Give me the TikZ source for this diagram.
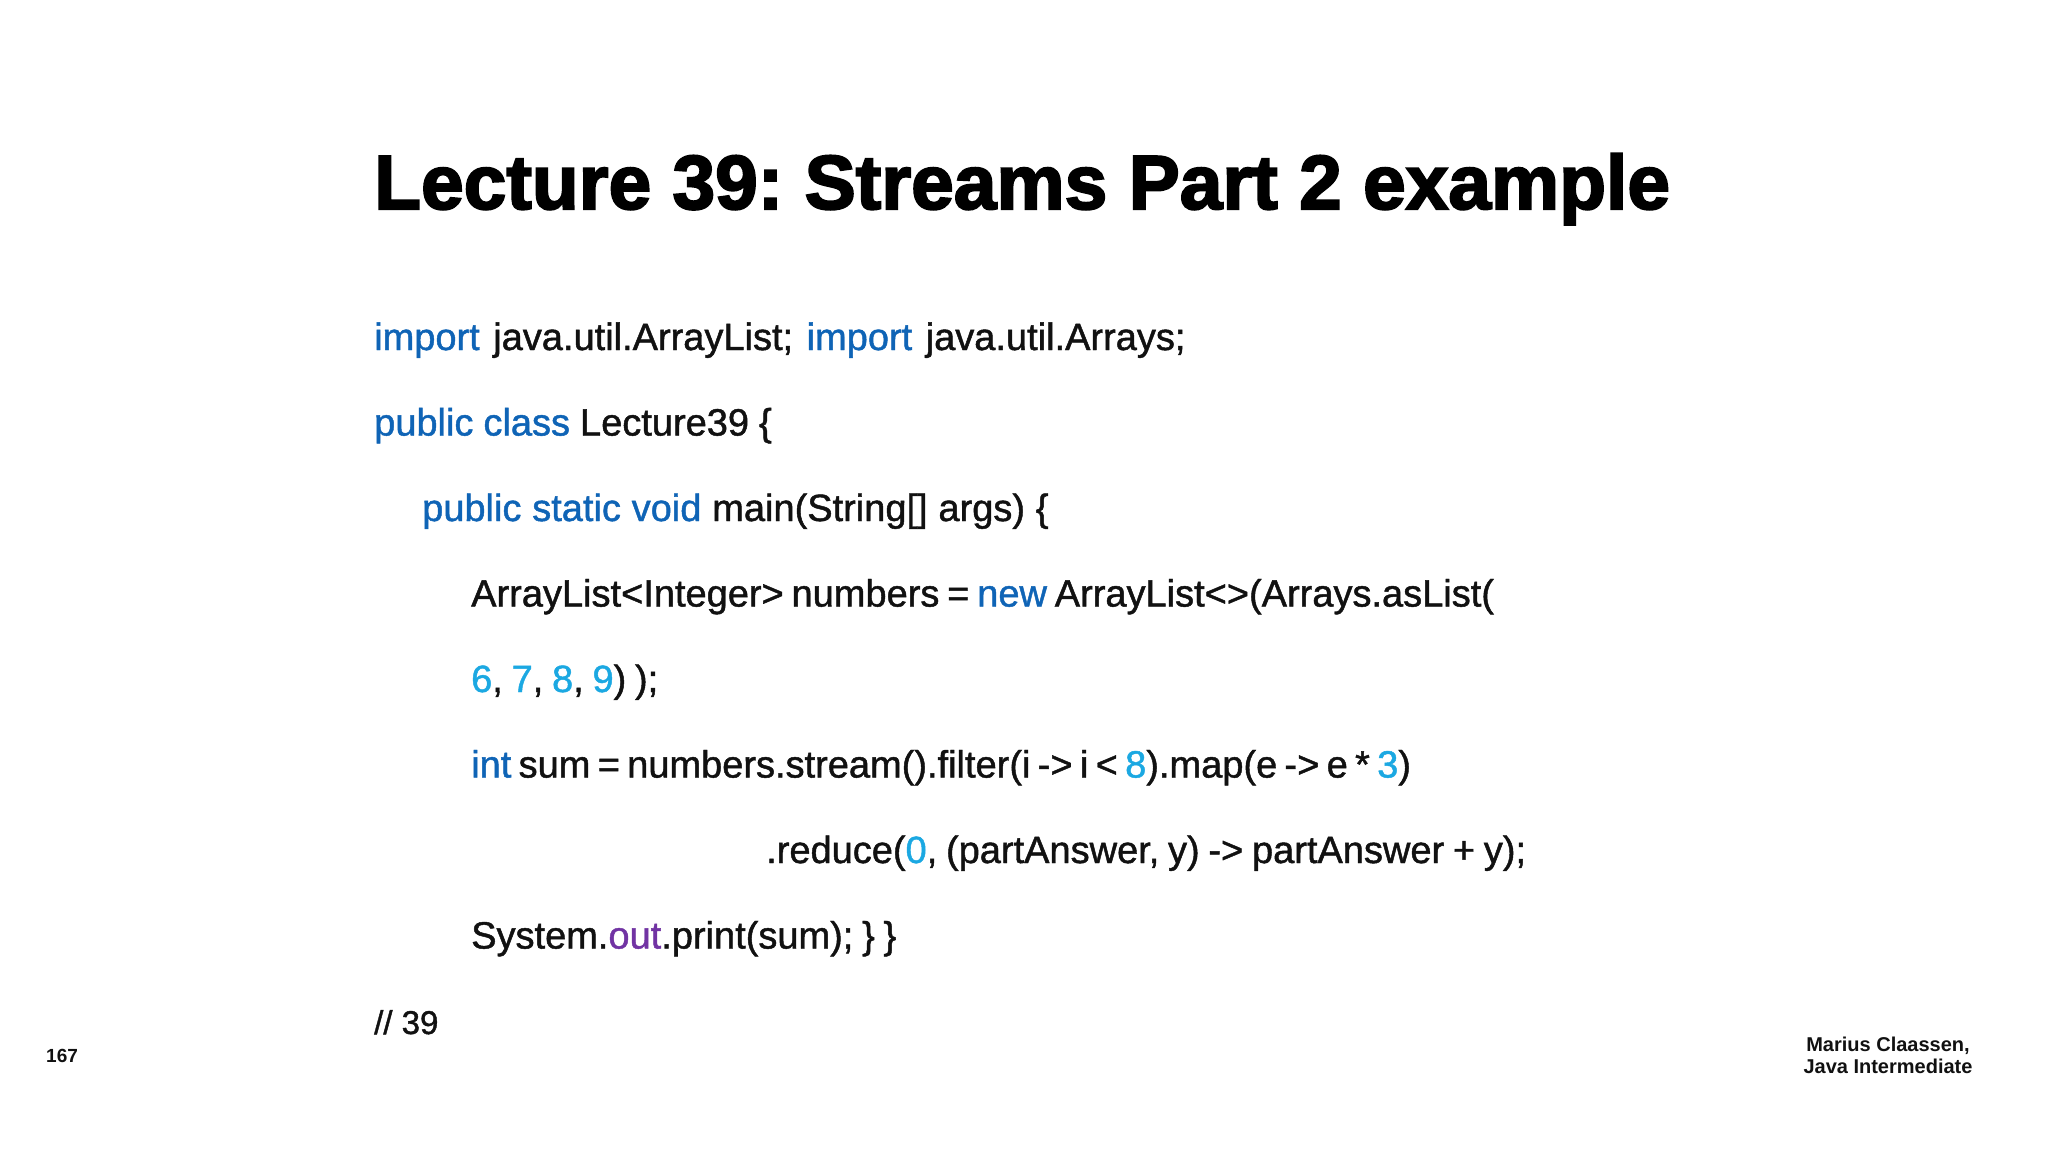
\documentclass[tikz,border=0pt]{standalone}
\usepackage{fontspec}
\setmainfont{Liberation Sans}
\newfontfamily\codefont[FakeBold=1.2]{Liberation Sans}
\newfontfamily\titlefont[FakeBold=2.6]{Liberation Sans Bold}
\newfontfamily\footfont{Liberation Sans Bold}
\definecolor{kwblue}{HTML}{0F64B6}
\definecolor{numcyan}{HTML}{1BA8E2}
\definecolor{outpurple}{HTML}{7133A3}
\definecolor{txt}{HTML}{111111}
\newcommand\kw[1]{\textcolor{kwblue}{#1}}
\newcommand\num[1]{\textcolor{numcyan}{#1}}
\newcommand\fld[1]{\textcolor{outpurple}{#1}}
\newcommand\wsp[1]{\spaceskip=#1 plus 2pt minus 1pt\relax}
\newcommand\codesize{\codefont\fontsize{38}{38}\selectfont\frenchspacing\spaceskip=0.23em plus 0.1em minus 0.05em\relax}
\tikzset{
  codeline/.style={anchor=base west, inner sep=0pt, text=txt, font=\codesize},
  titletext/.style={anchor=base west, inner sep=0pt, text=black, font=\titlefont\fontsize{76.7}{76.7}\selectfont\frenchspacing},
  foot/.style={inner sep=0pt, text=txt, font=\footfont\fontsize{20}{22}\selectfont}
}
\begin{document}
\begin{tikzpicture}[x=1pt,y=-1pt]
\useasboundingbox[fill=white] (0,0) rectangle (2048,1152);
\node[titletext] (title) at (374,209) {Lecture 39: Streams Part 2 example};
\node[codeline] (l1) at (374,350) {\wsp{13.5pt}\kw{import} java.util.ArrayList; \kw{import} java.util.Arrays;};
\node[codeline] (l2) at (374,435.5) {\wsp{10pt}\kw{public class} Lecture39 \{};
\node[codeline] (l3) at (422,521) {\wsp{10.8pt}\kw{public static void} main(String[] args) \{};
\node[codeline] (l4) at (471,606.5) {\wsp{7.8pt}ArrayList<Integer> numbers = \kw{new} ArrayList<>(Arrays.asList(};
\node[codeline] (l5) at (471,692) {\num{6}, \num{7}, \num{8}, \num{9}) );};
\node[codeline] (l6) at (471,777.5) {\wsp{7.3pt}\kw{int} sum = numbers.stream().filter(i -> i < \num{8}).map(e -> e * \num{3})};
\node[codeline] (l7) at (766,863) {.reduce(\num{0}, (partAnswer, y) -> partAnswer + y);};
\node[codeline] (l8) at (471,948.5) {System.\fld{out}.print(sum); \} \}};
\node[codeline, font=\codefont\fontsize{33}{33}\selectfont] (l9) at (374,1034) {// 39};
\node[foot, anchor=base west, font=\footfont\fontsize{19}{19}\selectfont] (page) at (46,1062) {167};
\node[foot, anchor=base, align=center] (author) at (1888,1073) {Marius Claassen,\\Java Intermediate};
\end{tikzpicture}
\end{document}
